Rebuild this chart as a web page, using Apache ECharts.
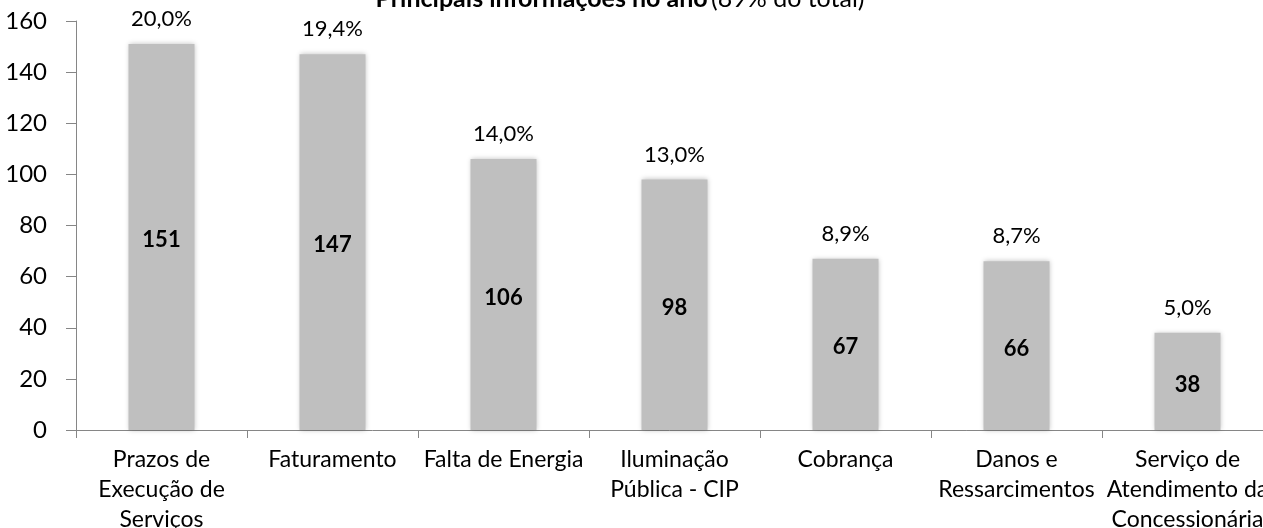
<!DOCTYPE html>
<html>
<head>
<meta charset="utf-8">
<script src="https://cdn.jsdelivr.net/npm/echarts@6/dist/echarts.min.js"></script>
<style>
  html, body { margin: 0; padding: 0; background: #fff; }
  #chart { width: 1263px; height: 528px; }
</style>
</head>
<body>
<div id="chart"></div>
<script>
// dados do gráfico
const categories = [
  'Prazos de\nExecução de\nServiços',
  'Faturamento',
  'Falta de Energia',
  'Iluminação\nPública - CIP',
  'Cobrança',
  'Danos e\nRessarcimentos',
  'Serviço de\nAtendimento da\nConcessionária'
]
const counts = [151, 147, 106, 98, 67, 66, 38]
const shares = ['20,0%', '19,4%', '14,0%', '13,0%', '8,9%', '8,7%', '5,0%']

const font = 'Lato, "Open Sans", sans-serif'
const chart = echarts.init(document.getElementById('chart'))
chart.setOption({
  animation: false,
  graphic: [{
    type: 'text',
    x: 620,
    y: -14,
    style: {
      text: '{b|Principais informações no ano} {n|(89% do total)}',
      align: 'center',
      rich: {
        b: {fontFamily: font, fontSize: 25, fontWeight: 'bold', fill: '#000'},
        n: {fontFamily: font, fontSize: 25, fontWeight: 'normal', fill: '#000'}
      }
    }
  }],
  grid: {left: 76, right: -10, top: 21, bottom: 98, outerBoundsMode: 'none'},
  xAxis: {
    type: 'category',
    data: categories,
    axisLine: {lineStyle: {color: '#868686'}},
    axisTick: {show: true, length: 8, lineStyle: {color: '#868686'}},
    axisLabel: {
      interval: 0, color: '#000', fontFamily: font, fontSize: 23,
      lineHeight: 30, margin: 15
    }
  },
  yAxis: {
    type: 'value',
    min: 0, max: 160, interval: 20,
    splitLine: {show: false},
    axisLine: {show: true, lineStyle: {color: '#868686'}},
    axisTick: {show: true, length: 10, lineStyle: {color: '#868686'}},
    axisLabel: {
      color: '#000', fontFamily: font, fontSize: 24, margin: 24,
      align: 'right', padding: [0, 5, 0, 0]
    }
  },
  series: [
    {
      type: 'bar',
      data: counts,
      barWidth: 66,
      itemStyle: {
        color: '#bfbfbf',
        shadowColor: 'rgba(0,0,0,0.25)',
        shadowBlur: 5
      },
      label: {
        show: true, position: 'inside', color: '#000',
        fontFamily: font, fontSize: 22, fontWeight: 'bold', offset: [0, 3]
      }
    },
    {
      type: 'bar',
      data: counts,
      barWidth: 66,
      barGap: '-100%',
      itemStyle: {color: 'transparent'},
      label: {
        show: true, position: 'top', distance: 14, color: '#000',
        fontFamily: font, fontSize: 22,
        formatter: p => shares[p.dataIndex]
      }
    }
  ]
})
</script>
</body>
</html>
